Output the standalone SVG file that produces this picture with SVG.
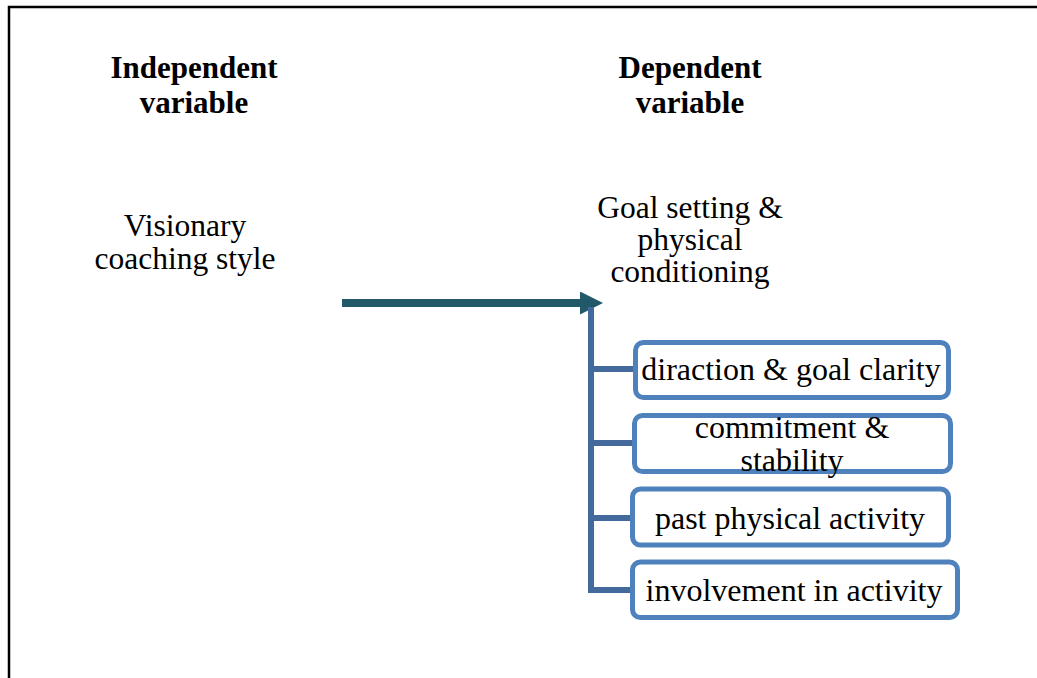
<svg xmlns="http://www.w3.org/2000/svg" width="1037" height="678" viewBox="0 0 1037 678">
<style>
.t{font-family:"Liberation Serif","Times New Roman",serif;fill:#000;text-anchor:middle}
.h{font-size:31px;font-weight:bold}
.r{font-size:31.5px}
.b{font-size:32px}
.box{fill:#fff;stroke:#4F81BD;stroke-width:5}
.br{stroke:#44699D;stroke-width:6;fill:none}
</style>
<defs>
<marker id="ah" markerUnits="userSpaceOnUse" markerWidth="24" markerHeight="23" refX="0" refY="11.5" orient="auto">
<path d="M0,0 L23,11.5 L0,23 Z" fill="#215968"/>
</marker>
</defs>
<rect x="0" y="0" width="1037" height="678" fill="#fff"/>
<g id="frame">
<path d="M9,678 V7 H1037" fill="none" stroke="#000" stroke-width="2.5"/>
</g>
<g id="header-independent">
<text class="t h" x="194" y="78">Independent</text>
<text class="t h" x="194" y="113">variable</text>
</g>
<g id="header-dependent">
<text class="t h" x="690" y="78">Dependent</text>
<text class="t h" x="690" y="113">variable</text>
</g>
<g id="node-visionary">
<text class="t r" x="185" y="236">Visionary</text>
<text class="t r" x="185" y="269">coaching style</text>
</g>
<g id="node-goal">
<text class="t r" x="690" y="218">Goal setting &amp;</text>
<text class="t r" x="690" y="250">physical</text>
<text class="t r" x="690" y="282">conditioning</text>
</g>
<g id="connectors">
<line x1="342" y1="303" x2="580" y2="303" stroke="#215968" stroke-width="8" marker-end="url(#ah)"/>
<path class="br" d="M591,307 V593"/>
<path class="br" d="M588,369 H633"/>
<path class="br" d="M588,443 H632"/>
<path class="br" d="M588,518 H630"/>
<path class="br" d="M588,590 H630"/>
</g>
<g id="node-direction">
<rect class="box" x="635.5" y="342.5" width="313" height="55" rx="8"/>
<text class="t b" x="791" y="380">diraction &amp; goal clarity</text>
</g>
<g id="node-commitment">
<rect class="box" x="634.5" y="415.5" width="316" height="56" rx="8"/>
<text class="t b" x="792" y="438">commitment &amp;</text>
<text class="t b" x="792" y="471">stability</text>
</g>
<g id="node-past">
<rect class="box" x="632.5" y="489" width="316" height="56" rx="8"/>
<text class="t b" x="790" y="529">past physical activity</text>
</g>
<g id="node-involvement">
<rect class="box" x="632.5" y="562" width="325" height="55.5" rx="8"/>
<text class="t b" x="794" y="601">involvement in activity</text>
</g>
</svg>
